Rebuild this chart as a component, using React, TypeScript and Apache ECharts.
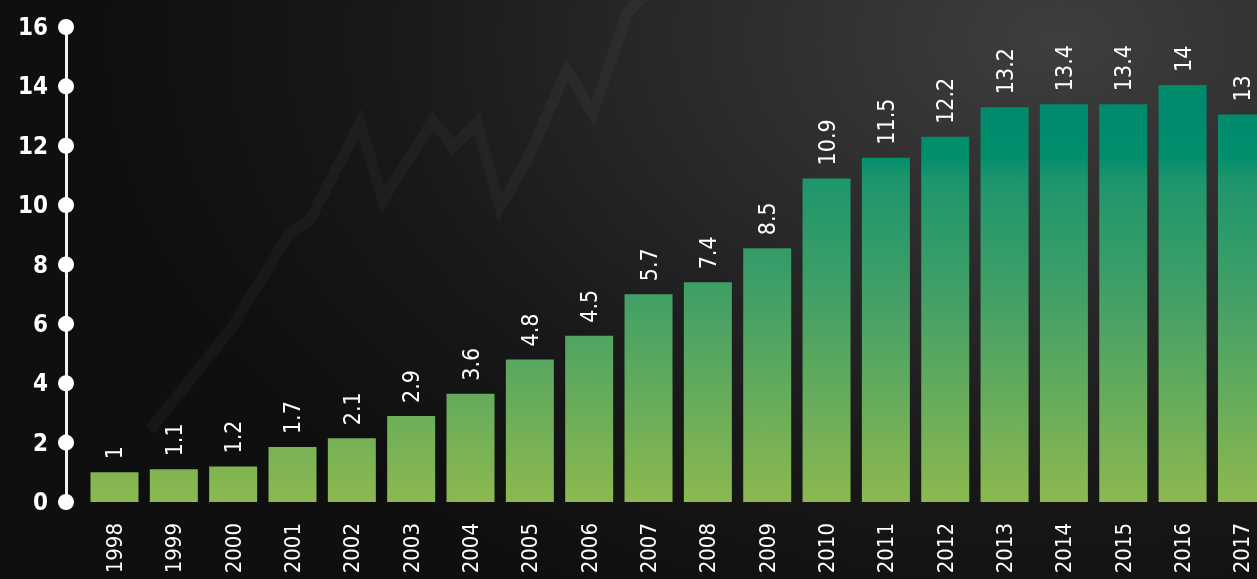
import React, { useEffect, useRef } from 'react';
import * as echarts from 'echarts';

const years = ['1998','1999','2000','2001','2002','2003','2004','2005','2006','2007','2008','2009','2010','2011','2012','2013','2014','2015','2016','2017'];
const barValues = [1, 1.1, 1.2, 1.85, 2.15, 2.9, 3.65, 4.8, 5.6, 7.0, 7.4, 8.55, 10.9, 11.6, 12.3, 13.3, 13.4, 13.4, 14.05, 13.05];
const valueLabels = ['1','1.1','1.2','1.7','2.1','2.9','3.6','4.8','4.5','5.7','7.4','8.5','10.9','11.5','12.2','13.2','13.4','13.4','14','13'];
const yTicks = [0, 2, 4, 6, 8, 10, 12, 14, 16];
const bgLine = [[150,430],[230,330],[290,233],[310,220],[360,123],[383,200],[433,120],[453,147],[477,123],[500,207],[527,160],[567,70],[593,113],[627,13],[650,-10]];

const FONT = '"Liberation Sans Narrow", "DejaVu Sans Condensed", "Liberation Sans", sans-serif';

export default function App() {
  const ref = useRef<HTMLDivElement>(null);
  useEffect(() => {
    if (!ref.current) return;
    const chart = echarts.init(ref.current, null, { renderer: 'svg' });
    const grad = new echarts.graphic.LinearGradient(0, 100, 0, 502, [
      { offset: 0, color: '#008b6c' },
      { offset: 0.14, color: '#018e6c' },
      { offset: 0.2, color: '#1e966c' },
      { offset: 0.5, color: '#44a066' },
      { offset: 0.75, color: '#68ac5b' },
      { offset: 1, color: '#8cb94f' },
    ], true);
    chart.setOption({
      animation: false,
      backgroundColor: 'transparent',
      graphic: [
        {
          type: 'polyline',
          z: 0,
          silent: true,
          shape: { points: bgLine },
          style: { stroke: 'rgba(255,255,255,0.03)', lineWidth: 11, fill: null, shadowBlur: 12, shadowColor: 'rgba(255,255,255,0.04)' },
        },
      ],
      grid: [
        { left: 84.8, width: 1186.8, top: 27, bottom: 77, outerBoundsMode: 'none', containLabel: false },
        { left: 66, width: 2, top: 27, bottom: 77, outerBoundsMode: 'none', containLabel: false },
      ],
      xAxis: [
        {
          type: 'category',
          gridIndex: 0,
          data: years,
          axisLine: { show: false },
          axisTick: { show: false },
          axisLabel: { rotate: 90, margin: 21, color: '#ffffff', fontSize: 22, fontFamily: FONT, interval: 0 },
        },
        { type: 'value', gridIndex: 1, min: 0, max: 1, show: false },
      ],
      yAxis: [
        { type: 'value', gridIndex: 0, min: 0, max: 16, interval: 2, show: false },
        {
          type: 'value',
          gridIndex: 1,
          min: 0,
          max: 16,
          interval: 2,
          axisLine: { show: true, onZero: false, lineStyle: { color: '#f2f2f2', width: 3 } },
          axisTick: { show: false },
          splitLine: { show: false },
          axisLabel: { margin: 18, color: '#ffffff', fontSize: 24, fontWeight: 'bold', fontFamily: FONT },
        },
      ],
      series: [
        {
          type: 'bar',
          xAxisIndex: 0,
          yAxisIndex: 0,
          data: barValues,
          barWidth: 48,
          itemStyle: { color: grad },
          label: {
            show: true,
            position: 'top',
            rotate: 90,
            align: 'left',
            verticalAlign: 'middle',
            distance: 13,
            color: '#ffffff',
            fontSize: 23,
            fontFamily: FONT,
            formatter: (p: any) => valueLabels[p.dataIndex],
          },
        },
        {
          type: 'scatter',
          xAxisIndex: 1,
          yAxisIndex: 1,
          clip: false,
          symbol: 'circle',
          symbolSize: 16,
          itemStyle: { color: '#ffffff', opacity: 1 },
          data: yTicks.map((v) => [0, v]),
          z: 5,
        },
      ],
    });
    return () => chart.dispose();
  }, []);
  return (
    <div
      ref={ref}
      style={{
        position: 'fixed',
        left: 0,
        top: 0,
        width: 1280,
        height: 579,
        background:
          'radial-gradient(ellipse 950px 620px at 1060px 40px, #3e3e3e 0%, #2c2c2c 35%, #181818 72%, #0f0f0f 100%)',
      }}
    />
  );
}
